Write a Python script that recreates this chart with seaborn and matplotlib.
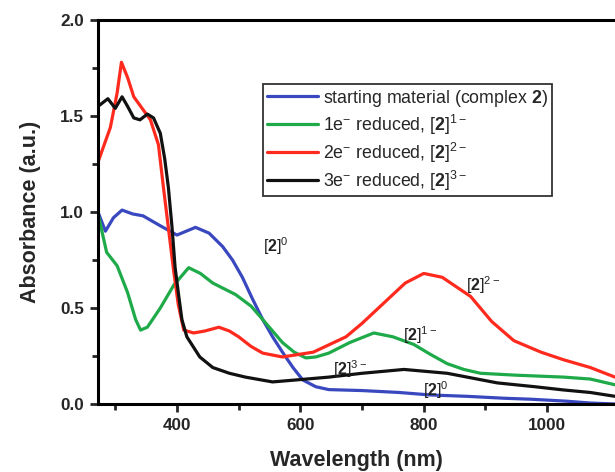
import matplotlib
matplotlib.use("Agg")
import matplotlib.pyplot as plt
import seaborn as sns
import pandas as pd

# ---- data ----
blue_x = [272, 284, 297, 311, 328, 345, 372, 400, 415, 430, 452, 474, 490, 506, 522, 539, 555, 571, 588, 604, 625, 646, 700, 760, 811, 870, 930, 973, 1030, 1070, 1110]
blue_y = [1.00, 0.90, 0.97, 1.01, 0.99, 0.98, 0.93, 0.88, 0.90, 0.92, 0.89, 0.82, 0.75, 0.66, 0.55, 0.44, 0.35, 0.27, 0.19, 0.125, 0.09, 0.075, 0.07, 0.06, 0.047, 0.04, 0.03, 0.025, 0.015, 0.005, 0.0]

green_x = [272, 286, 303, 320, 333, 341, 352, 373, 395, 419, 438, 458, 495, 520, 539, 555, 571, 590, 609, 625, 646, 680, 719, 750, 784, 810, 838, 865, 892, 950, 1027, 1070, 1110]
green_y = [0.99, 0.79, 0.72, 0.58, 0.44, 0.385, 0.40, 0.50, 0.62, 0.71, 0.68, 0.63, 0.57, 0.51, 0.44, 0.38, 0.32, 0.27, 0.24, 0.245, 0.265, 0.32, 0.37, 0.35, 0.31, 0.26, 0.21, 0.18, 0.16, 0.15, 0.14, 0.13, 0.10]

red_x = [272, 292, 303, 310, 320, 330, 357, 370, 378, 386, 394, 402, 411, 427, 445, 468, 485, 500, 520, 539, 571, 621, 674, 700, 730, 770, 800, 830, 876, 910, 946, 990, 1027, 1070, 1110]
red_y = [1.26, 1.44, 1.62, 1.78, 1.70, 1.60, 1.48, 1.35, 1.13, 0.92, 0.71, 0.52, 0.385, 0.37, 0.38, 0.40, 0.38, 0.35, 0.30, 0.265, 0.245, 0.27, 0.35, 0.42, 0.51, 0.63, 0.68, 0.66, 0.56, 0.43, 0.33, 0.27, 0.23, 0.19, 0.14]

black_x = [272, 288, 300, 311, 320, 330, 340, 352, 362, 373, 380, 386, 392, 397, 403, 408, 416, 437, 458, 485, 511, 555, 592, 646, 700, 768, 838, 919, 980, 1027, 1070, 1110]
black_y = [1.55, 1.59, 1.54, 1.60, 1.55, 1.49, 1.48, 1.51, 1.49, 1.41, 1.28, 1.13, 0.92, 0.71, 0.56, 0.44, 0.35, 0.245, 0.19, 0.16, 0.14, 0.115, 0.125, 0.14, 0.16, 0.18, 0.16, 0.11, 0.09, 0.073, 0.06, 0.04]

labels = ["starting material (complex $\\mathbf{2}$)",
          "1e$^{-}$ reduced, [$\\mathbf{2}$]$^{1-}$",
          "2e$^{-}$ reduced, [$\\mathbf{2}$]$^{2-}$",
          "3e$^{-}$ reduced, [$\\mathbf{2}$]$^{3-}$"]
colors = ["#3a48c0", "#1faa4a", "#ff2a1e", "#111111"]

xticks = [400, 600, 800, 1000]
yticks = [0.0, 0.5, 1.0, 1.5, 2.0]

# annotation labels and anchor points (data coords)
ann_text = ["[$\\mathbf{2}$]$^{0}$", "[$\\mathbf{2}$]$^{2-}$", "[$\\mathbf{2}$]$^{1-}$",
            "[$\\mathbf{2}$]$^{3-}$", "[$\\mathbf{2}$]$^{0}$"]
ann_x = [539, 868, 767, 653, 798]
ann_y = [0.79, 0.59, 0.33, 0.15, 0.04]

frames = []
for xs, ys, lab in zip([blue_x, green_x, red_x, black_x],
                       [blue_y, green_y, red_y, black_y], labels):
    frames.append(pd.DataFrame({"Wavelength": xs, "Absorbance": ys, "series": lab}))
df = pd.concat(frames, ignore_index=True)

sns.set_style("ticks")
plt.rcParams["font.family"] = ["Liberation Sans", "DejaVu Sans"]
plt.rcParams["mathtext.fontset"] = "custom"
plt.rcParams["mathtext.rm"] = "Liberation Sans"
plt.rcParams["mathtext.bf"] = "Liberation Sans:bold"

fig = plt.figure(figsize=(6.15, 4.72), dpi=100)
ax = fig.add_axes([98 / 615, 1 - 404 / 472, 1 - 98 / 615, (404 - 20) / 472])

sns.lineplot(data=df, x="Wavelength", y="Absorbance", hue="series",
             hue_order=labels, palette=colors, linewidth=2.3,
             sort=False, estimator=None, ax=ax)

ax.set_xlim(272, 1110)
ax.set_ylim(0, 2.0)
ax.set_xticks(xticks)
ax.set_yticks(yticks)
ax.set_xticks([300, 500, 700, 900], minor=True)
ax.set_yticks([0.25, 0.75, 1.25, 1.75], minor=True)
ax.set_xticklabels([str(t) for t in xticks], fontweight="bold", fontsize=12.3)
ax.set_yticklabels([f"{t:.1f}" for t in yticks], fontweight="bold", fontsize=12.3)
ax.tick_params(axis="both", which="major", length=6, width=2, direction="out", pad=4)
ax.tick_params(axis="both", which="minor", length=4, width=2, direction="out")
for s in ["left", "bottom", "top"]:
    ax.spines[s].set_linewidth(2.2)
    ax.spines[s].set_color("black")
ax.spines["right"].set_visible(False)

ax.set_xlabel("Wavelength (nm)", fontweight="bold", fontsize=15.5, labelpad=12)
ax.set_ylabel("Absorbance (a.u.)", fontweight="bold", fontsize=15.5, labelpad=14)

leg = ax.legend(loc="upper left", bbox_to_anchor=((263 - 98) / 517, (404 - 84) / 384),
                frameon=True, fancybox=False, fontsize=12.8, handlelength=2.9,
                handletextpad=0.3, labelspacing=0.22, borderpad=0.2,
                borderaxespad=0.0)
leg.get_frame().set_edgecolor("black")
leg.get_frame().set_linewidth(1.3)
for line in leg.get_lines():
    line.set_linewidth(2.3)

for t, x, y in zip(ann_text, ann_x, ann_y):
    ax.text(x, y, t, fontsize=11.5, color="#222222")

fig.savefig("out.png", dpi=100)
